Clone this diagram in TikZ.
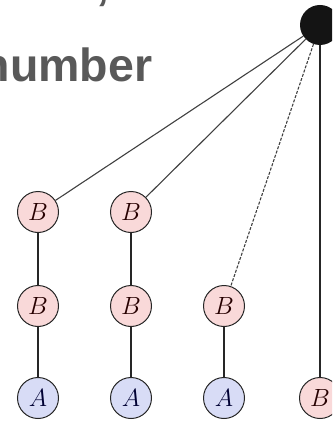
\documentclass[tikz,border=0pt]{standalone}
\usepackage{fontspec}
\newfontfamily\headfont{Liberation Sans}
\definecolor{pinkfill}{HTML}{F9D9D9}
\definecolor{bluefill}{HTML}{D8DCF6}
\definecolor{wordgray}{HTML}{595959}
\begin{document}
\begin{tikzpicture}[x=1pt,y=-1pt,
  vnode/.style={circle,draw=black!85,line width=1pt,minimum size=41pt,inner sep=0pt,
    font=\Huge},
  bnode/.style={vnode,fill=pinkfill,text=black!85!red},
  anode/.style={vnode,fill=bluefill,text=black!80!blue},
  treeedge/.style={line width=1.4pt,black!85},
  fanedge/.style={line width=1.1pt,black!75},
  headtext/.style={anchor=base west,inner sep=0pt,text=wordgray,
    font=\headfont\bfseries\fontsize{46.5}{56}\selectfont}]
\useasboundingbox (0,0) rectangle (332,422);
\clip (0,0) rectangle (332,422);
\node[headtext] (comma) at (96,0) {,};
\node[headtext] (word) at (-18.5,82) {number};
\node[circle,fill=black!92,minimum size=40pt,inner sep=0pt] (root) at (320,25) {};
\node[bnode] (b11) at (38,212) {$B$};
\node[bnode] (b21) at (38,306) {$B$};
\node[anode] (a31) at (38,398) {$A$};
\node[bnode] (b12) at (131,212) {$B$};
\node[bnode] (b22) at (131,306) {$B$};
\node[anode] (a32) at (131,398) {$A$};
\node[bnode] (b23) at (224,306) {$B$};
\node[anode] (a33) at (224,398) {$A$};
\node[bnode] (b34) at (320,398) {$B$};
\draw[fanedge] (root) -- (b11);
\draw[fanedge] (root) -- (b12);
\draw[fanedge,dash pattern=on 3pt off 1.5pt] (root) -- (b23);
\draw[treeedge] (root) -- (b34);
\draw[treeedge] (b11) -- (b21);
\draw[treeedge] (b21) -- (a31);
\draw[treeedge] (b12) -- (b22);
\draw[treeedge] (b22) -- (a32);
\draw[treeedge] (b23) -- (a33);
\end{tikzpicture}
\end{document}
